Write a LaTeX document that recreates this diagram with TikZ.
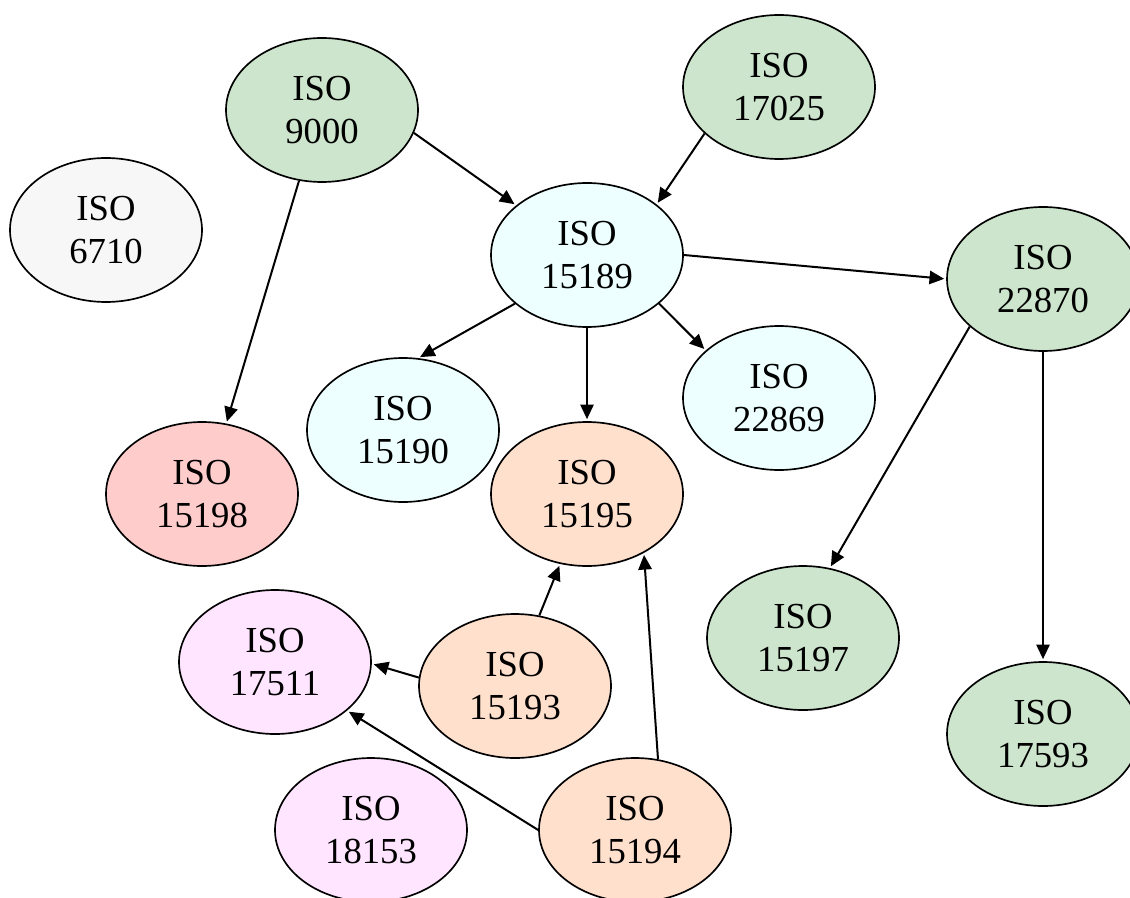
\documentclass[tikz,border=0pt]{standalone}
\usepackage{fontspec}
\setmainfont{Liberation Serif}
\usepackage{xcolor}
\usetikzlibrary{shapes.geometric,arrows.meta}
\definecolor{iso-green}{HTML}{CCE5CC}
\definecolor{iso-cyan}{HTML}{EEFFFF}
\definecolor{iso-gray}{HTML}{F7F7F7}
\definecolor{iso-red}{HTML}{FFCCCC}
\definecolor{iso-peach}{HTML}{FFE0CC}
\definecolor{iso-pink}{HTML}{FFE5FF}
\tikzset{
    iso-node/.style = {draw=black, line width=1.25pt, ellipse, minimum width=144pt, minimum height=108pt, inner sep=0pt, align=center, font=\fontsize{27.5}{32}\selectfont},
    iso-link/.style = {draw=black, line width=1.5pt, shorten >=1.5pt, -{Triangle[length=11pt, width=10pt]}},
}

\begin{document}
\begin{tikzpicture}[x=0.75pt, y=-0.75pt]
\useasboundingbox (0,0) rectangle (1130,898);
\node [iso-node, fill=iso-green] (n9000) at (322,110) {ISO\\9000};
\node [iso-node, fill=iso-green] (n17025) at (779,87) {ISO\\17025};
\node [iso-node, fill=iso-gray] (n6710) at (106,230) {ISO\\6710};
\node [iso-node, fill=iso-cyan] (n15189) at (587,255) {ISO\\15189};
\node [iso-node, fill=iso-green] (n22870) at (1043,279) {ISO\\22870};
\node [iso-node, fill=iso-cyan] (n15190) at (403,430) {ISO\\15190};
\node [iso-node, fill=iso-cyan] (n22869) at (779,398) {ISO\\22869};
\node [iso-node, fill=iso-red] (n15198) at (202,494) {ISO\\15198};
\node [iso-node, fill=iso-peach] (n15195) at (587,494) {ISO\\15195};
\node [iso-node, fill=iso-green] (n15197) at (803,638) {ISO\\15197};
\node [iso-node, fill=iso-green] (n17593) at (1043,734) {ISO\\17593};
\node [iso-node, fill=iso-pink] (n17511) at (275,662) {ISO\\17511};
\node [iso-node, fill=iso-peach] (n15193) at (515,686) {ISO\\15193};
\node [iso-node, fill=iso-pink] (n18153) at (371,830) {ISO\\18153};
\node [iso-node, fill=iso-peach] (n15194) at (635,830) {ISO\\15194};
% links
\draw [iso-link] (n9000.-14) -- (n15189.145);
\draw [iso-link] (n17025.-148) -- (n15189.36);
\draw [iso-link] (n9000.-108) -- (n15198.71);
\draw [iso-link] (n15189.0) -- (n22870.180);
\draw [iso-link] (n15189.-146) -- (n15190.78);
\draw [iso-link] (n15189.-90) -- (n15195.90);
\draw [iso-link] (n15189.-34) -- (n22869.147);
\draw [iso-link] (n22870.-147) -- (n15197.69);
\draw [iso-link] (n22870.-90) -- (n17593.90);
\draw [iso-link] (n15193.71) -- (n15195.-111);
\draw [iso-link] (n15193.175) -- (n17511.-1);
\draw [iso-link] (n15194.180) -- (n17511.-34);
\draw [iso-link] (n15194.72) -- (n15195.-46);
\end{tikzpicture}
\end{document}
